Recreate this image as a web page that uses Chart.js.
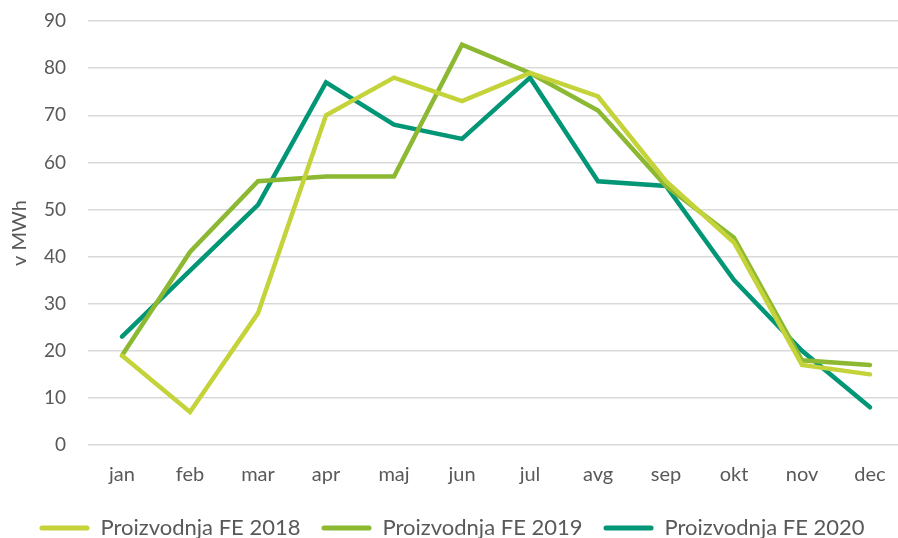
<!DOCTYPE html>
<html>
<head>
<meta charset="utf-8">
<script src="https://cdn.jsdelivr.net/npm/chart.js@4/dist/chart.umd.min.js"></script>
<style>
  html, body { margin: 0; padding: 0; background: #fff; overflow: hidden; }
  #wrap { width: 904px; height: 557px; margin-top: -8px; }
</style>
</head>
<body>
<div id="wrap"><canvas id="proizvodnja"></canvas></div>
<script>
const meseci = ["jan", "feb", "mar", "apr", "maj", "jun", "jul", "avg", "sep", "okt", "nov", "dec"];
const fe2018 = [19, 7, 28, 70, 78, 73, 79, 74, 56, 43, 17, 15];
const fe2019 = [19, 41, 56, 57, 57, 85, 79, 71, 55, 44, 18, 17];
const fe2020 = [23, 37, 51, 77, 68, 65, 78, 56, 55, 35, 20, 8];

const font = "Lato, 'Open Sans', sans-serif";
const siva = "#595959";

function serija(label, data, color) {
  return {
    label,
    data,
    borderColor: color,
    backgroundColor: color,
    borderWidth: 4.5,
    pointRadius: 0,
    tension: 0,
    borderCapStyle: "round",
    borderJoinStyle: "miter"
  };
}

new Chart(document.getElementById("proizvodnja"), {
  type: "line",
  data: {
    labels: meseci,
    datasets: [
      serija("Proizvodnja FE 2018", fe2018, "#C3D339"),
      serija("Proizvodnja FE 2019", fe2019, "#8CB832"),
      serija("Proizvodnja FE 2020", fe2020, "#019676")
    ]
  },
  options: {
    responsive: true,
    maintainAspectRatio: false,
    animation: false,
    layout: { padding: 0 },
    plugins: {
      tooltip: { enabled: false },
      legend: {
        position: "bottom",
        labels: {
          color: siva,
          font: { family: font, size: 22 },
          boxWidth: 50,
          boxHeight: 5,
          padding: 21,
          useBorderRadius: true,
          generateLabels(chart) {
            return chart.data.datasets.map((ds, i) => ({
              text: ds.label,
              fillStyle: ds.borderColor,
              strokeStyle: ds.borderColor,
              lineWidth: 0,
              borderRadius: 2.5,
              fontColor: siva,
              datasetIndex: i
            }));
          }
        }
      }
    },
    scales: {
      x: {
        offset: true,
        afterFit(scale) { scale.height = 51; },
        grid: { display: false },
        border: { display: false },
        ticks: { color: siva, font: { family: font, size: 20 }, padding: 10 }
      },
      y: {
        min: 0,
        max: 90,
        afterFit(scale) { scale.width = 88; },
        grid: { color: "#D9D9D9", lineWidth: 1.5, drawTicks: false },
        border: { display: false },
        ticks: { stepSize: 10, color: siva, font: { family: font, size: 19, lineHeight: 0.75 }, padding: 22 },
        title: {
          display: true,
          text: "v MWh",
          color: siva,
          font: { family: font, size: 20 },
          padding: { top: 8, bottom: 2 }
        }
      }
    }
  }
});
</script>
</body>
</html>
